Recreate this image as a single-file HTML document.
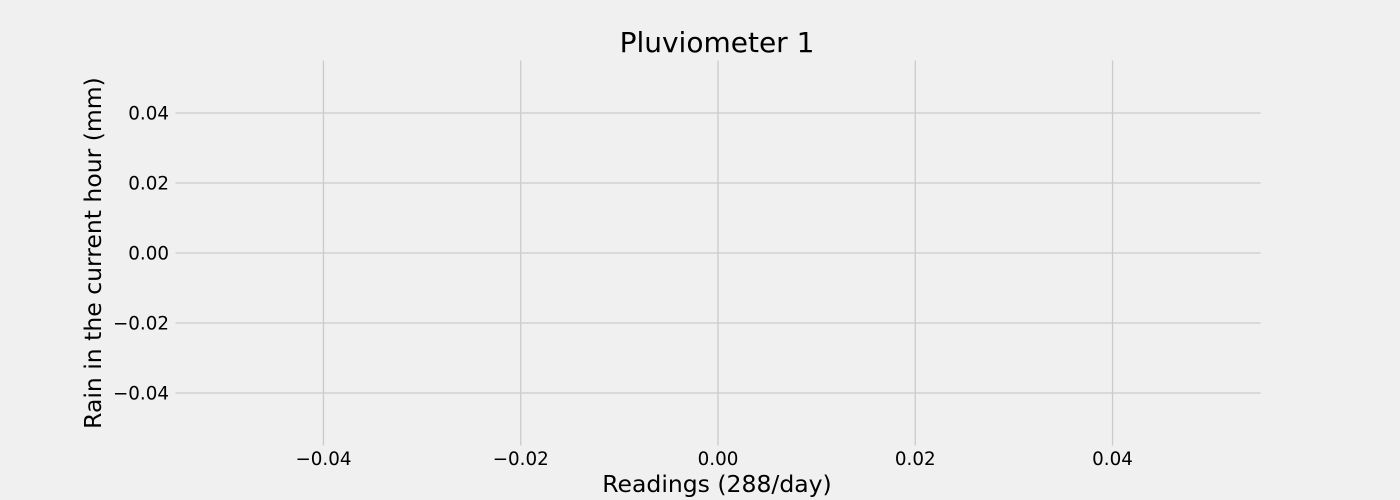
<!DOCTYPE html>
<html>
<head>
<meta charset="utf-8">
<style>
  html, body { margin: 0; padding: 0; background: #f0f0f0; }
  svg { display: block; }
  text { font-family: "DejaVu Sans", "Liberation Sans", sans-serif; fill: #000; }
</style>
</head>
<body>
<svg id="chart" width="1400" height="500" viewBox="0 0 1400 500">
  <rect x="0" y="0" width="1400" height="500" fill="#f0f0f0"></rect>
  <g id="grid"></g>
  <g id="xticks"></g>
  <g id="yticks"></g>
  <g id="series"></g>
  <text x="717" y="52" font-size="28" text-anchor="middle">Pluviometer 1</text>
  <text x="717" y="492" font-size="23.5" text-anchor="middle">Readings (288/day)</text>
  <text transform="translate(101,253) rotate(-90)" font-size="23.5" text-anchor="middle">Rain in the current hour (mm)</text>
</svg>
<script>
const xTicks = [-0.04, -0.02, 0.0, 0.02, 0.04];
const yTicks = [-0.04, -0.02, 0.0, 0.02, 0.04];
const readings = [];
const rainValues = [];

const xDomain = [-0.055, 0.055];
const yDomain = [-0.055, 0.055];
const plot = { left: 175.5, right: 1260.5, top: 60.5, bottom: 445.5 };

function xScale(v) { return plot.left + (v - xDomain[0]) / (xDomain[1] - xDomain[0]) * (plot.right - plot.left); }
function yScale(v) { return plot.bottom - (v - yDomain[0]) / (yDomain[1] - yDomain[0]) * (plot.bottom - plot.top); }
function fmt(v) { const s = Math.abs(v).toFixed(2); return (v < 0 ? "\u2212" : "") + s; }

const NS = "http://www.w3.org/2000/svg";
const grid = document.getElementById("grid");
const xg = document.getElementById("xticks");
const yg = document.getElementById("yticks");
const sg = document.getElementById("series");

xTicks.forEach(function (t) {
  const x = xScale(t);
  const l = document.createElementNS(NS, "line");
  l.setAttribute("x1", x); l.setAttribute("x2", x);
  l.setAttribute("y1", plot.top); l.setAttribute("y2", plot.bottom);
  l.setAttribute("stroke", "#cbcbcb"); l.setAttribute("stroke-width", "1.3");
  
  
  grid.appendChild(l);
  const tx = document.createElementNS(NS, "text");
  tx.setAttribute("x", x); tx.setAttribute("y", 465);
  tx.setAttribute("font-size", "18.3"); tx.setAttribute("text-anchor", "middle");
  tx.textContent = fmt(t);
  
  
  xg.appendChild(tx);
});

yTicks.forEach(function (t) {
  const y = yScale(t);
  const l = document.createElementNS(NS, "line");
  l.setAttribute("x1", plot.left); l.setAttribute("x2", plot.right);
  l.setAttribute("y1", y); l.setAttribute("y2", y);
  l.setAttribute("stroke", "#cbcbcb"); l.setAttribute("stroke-width", "1.3");
  
  
  grid.appendChild(l);
  const tx = document.createElementNS(NS, "text");
  tx.setAttribute("x", 169); tx.setAttribute("y", y + 6.5);
  tx.setAttribute("font-size", "18.3"); tx.setAttribute("text-anchor", "end");
  tx.textContent = fmt(t);
  
  
  yg.appendChild(tx);
});

if (readings.length > 0) {
  const pts = readings.map(function (r, i) { return xScale(r) + "," + yScale(rainValues[i]); }).join(" ");
  const pl = document.createElementNS(NS, "polyline");
  pl.setAttribute("points", pts);
  pl.setAttribute("fill", "none"); pl.setAttribute("stroke", "#008fd5"); pl.setAttribute("stroke-width", "3");
  
  
  sg.appendChild(pl);
}
</script>
</body>
</html>
